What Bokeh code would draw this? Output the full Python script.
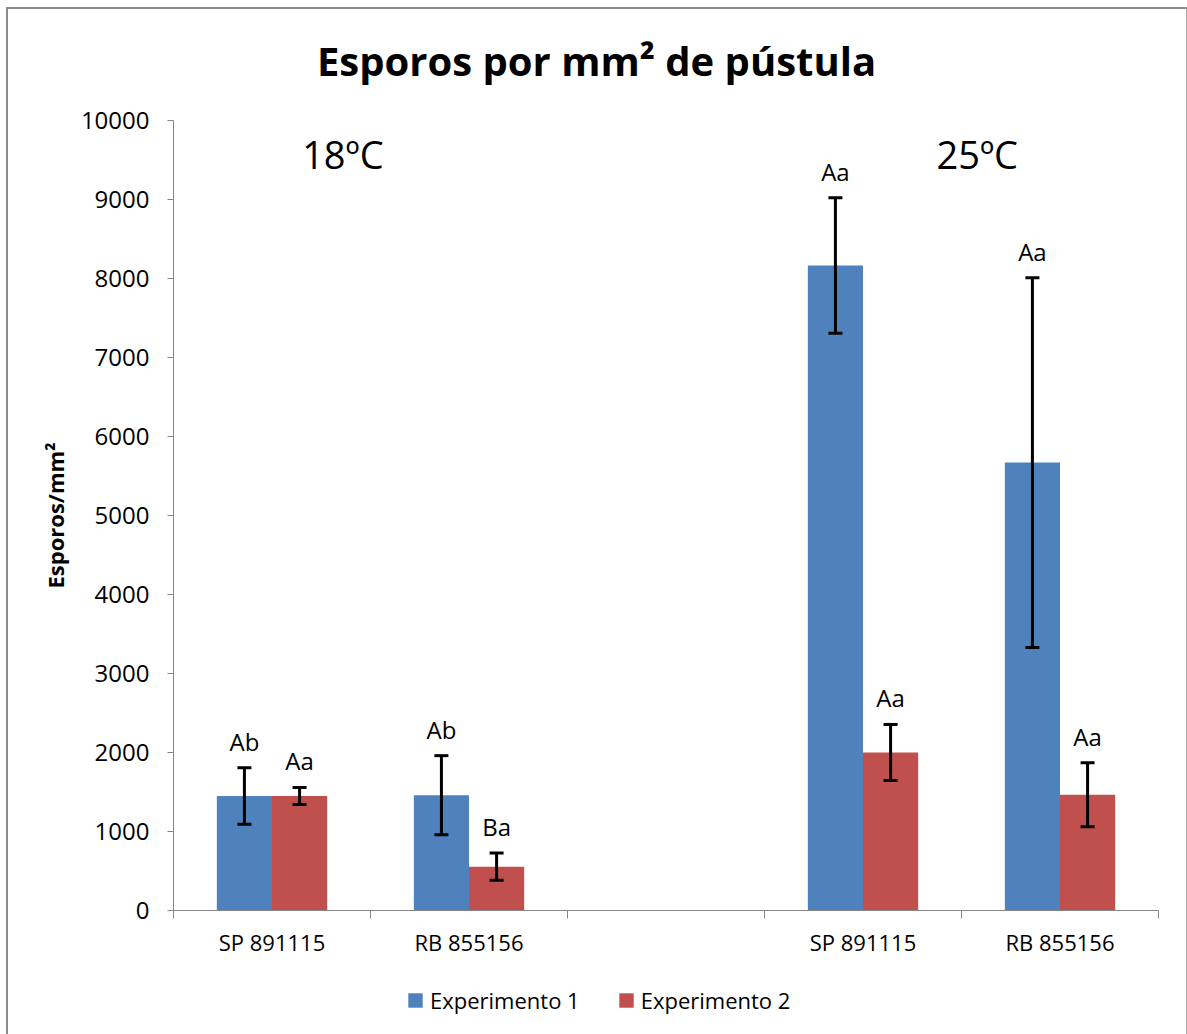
from bokeh.plotting import figure
from bokeh.layouts import column
from bokeh.models import (ColumnDataSource, FixedTicker, Whisker, TeeHead, Label,
                          Legend, LegendItem, Range1d)
from bokeh.core.properties import value
from bokeh.embed import file_html
from bokeh.resources import INLINE

# ---------------- data ----------------
categories = ["SP 891115", "RB 855156", "", "SP 891115", "RB 855156"]
bar_slots = [0, 1, 3, 4]          # category slots that hold bars
temps = ["18ºC", "25ºC"]
series = ["Experimento 1", "Experimento 2"]
exp1 = [1450, 1460, 8165, 5670]
err1 = [358, 500, 858, 2340]
exp2 = [1450, 555, 2000, 1465]
err2 = [108, 173, 355, 406]
lab1 = ["Ab", "Ab", "Aa", "Aa"]
lab2 = ["Aa", "Ba", "Aa", "Aa"]
y_ticks = list(range(0, 10001, 1000))
title_text = "Esporos por mm² de pústula"

FONT = "Open Sans"
BLUE = "#4F81BD"
RED = "#C0504D"
AXIS = "#868686"
BW = 0.28
W = 1178


def bare_fig(h):
    f = figure(width=W, height=h, x_range=Range1d(0, 1), y_range=Range1d(0, 1),
               output_backend="svg", toolbar_location=None, min_border=0,
               x_axis_location=None, y_axis_location=None)
    f.outline_line_color = None
    f.xgrid.visible = False
    f.ygrid.visible = False
    return f


def make_src(vals, errs, labs, shift):
    xs = [s + 0.5 + shift for s in bar_slots]
    return ColumnDataSource(dict(
        x=xs, top=vals,
        upper=[v + e for v, e in zip(vals, errs)],
        lower=[v - e for v, e in zip(vals, errs)],
        lab=labs))


src1 = make_src(exp1, err1, lab1, -BW / 2)
src2 = make_src(exp2, err2, lab2, BW / 2)

# ---------------- title strip (frame aligned with main frame) ----------------
tf = bare_fig(91)
tf.add_layout(Label(x=423, y=40, x_units="screen", y_units="screen",
                    text=title_text, text_align="center", text_baseline="middle",
                    text_font=FONT, text_font_style="bold", text_font_size="40px",
                    text_color="black"))

# ---------------- main chart ----------------
p = figure(width=W, height=875, x_range=Range1d(0, len(categories)),
           y_range=Range1d(0, 10000), output_backend="svg", toolbar_location=None,
           min_border_left=165, min_border_right=28, min_border_top=20,
           min_border_bottom=65)
p.outline_line_color = None
p.xgrid.visible = False
p.ygrid.visible = False

p.vbar(x="x", top="top", width=BW, source=src1, fill_color=BLUE, line_color=None)
p.vbar(x="x", top="top", width=BW, source=src2, fill_color=RED, line_color=None)

for src in (src1, src2):
    w = Whisker(base="x", upper="upper", lower="lower", source=src,
                line_color="black", line_width=3, level="overlay",
                upper_head=TeeHead(size=14, line_width=3, line_color="black"),
                lower_head=TeeHead(size=14, line_width=3, line_color="black"))
    p.add_layout(w)
    p.text(x="x", y="upper", text="lab", source=src, text_align="center",
           text_baseline="bottom", y_offset=-10, text_font=value(FONT),
           text_font_size="24px", text_color="black")

ya = p.yaxis[0]
ya.ticker = FixedTicker(ticks=y_ticks, minor_ticks=[])
ya.axis_line_color = AXIS
ya.major_tick_line_color = AXIS
ya.major_tick_out = 6
ya.major_tick_in = 0
ya.minor_tick_line_color = None
ya.major_label_text_font = FONT
ya.major_label_text_font_size = "24px"
ya.major_label_text_color = "black"
ya.major_label_standoff = 18
ya.axis_label = "Esporos/mm²"
ya.axis_label_text_font = FONT
ya.axis_label_text_font_style = "bold"
ya.axis_label_text_font_size = "22px"
ya.axis_label_standoff = 8
ya.axis_label_text_color = "black"

xa = p.xaxis[0]
label_ticks = [i + 0.5 for i, c in enumerate(categories) if c]
xa.ticker = FixedTicker(ticks=label_ticks,
                        minor_ticks=list(range(len(categories) + 1)))
xa.major_label_overrides = {i + 0.5: c for i, c in enumerate(categories) if c}
xa.axis_line_color = AXIS
xa.major_tick_line_color = None
xa.major_tick_out = 0
xa.major_tick_in = 0
xa.minor_tick_line_color = AXIS
xa.minor_tick_out = 8
xa.minor_tick_in = 0
xa.major_label_text_font = FONT
xa.major_label_text_font_size = "22px"
xa.major_label_text_color = "black"
xa.major_label_standoff = 8

p.add_layout(Label(x=0.86, y=9580, text=temps[0], text_align="center",
                   text_baseline="middle", text_font=FONT, text_font_size="38px",
                   text_color="black"))
p.add_layout(Label(x=4.08, y=9580, text=temps[1], text_align="center",
                   text_baseline="middle", text_font=FONT, text_font_size="38px",
                   text_color="black"))

# ---------------- legend strip (frame aligned with main frame) ----------------
lf = bare_fig(59)
# zero-height proxies: they only supply the legend swatches
proxy = ColumnDataSource(dict(x=[0.5], top=[0]))
l1 = lf.vbar(x="x", top="top", width=0, source=proxy, fill_color=BLUE, line_color=None)
l2 = lf.vbar(x="x", top="top", width=0, source=proxy, fill_color=RED, line_color=None)
legend = Legend(items=[LegendItem(label=series[0], renderers=[l1]),
                       LegendItem(label=series[1], renderers=[l2])],
                orientation="horizontal", location=(233, 19),
                border_line_color=None, background_fill_alpha=0,
                label_text_font=FONT, label_text_font_size="22px",
                label_text_color="black",
                glyph_width=18, glyph_height=18, label_standoff=6,
                spacing=37, padding=0, margin=0)
lf.add_layout(legend, "center")

layout = column(tf, p, lf, spacing=0)
layout.styles = {"margin-left": "6px", "margin-top": "7px",
                 "border-left": "2px solid #8a8a8a", "border-top": "2px solid #8a8a8a",
                 "border-right": "1px solid #a6a6a6"}

open("out.html", "w").write(file_html(layout, INLINE))
